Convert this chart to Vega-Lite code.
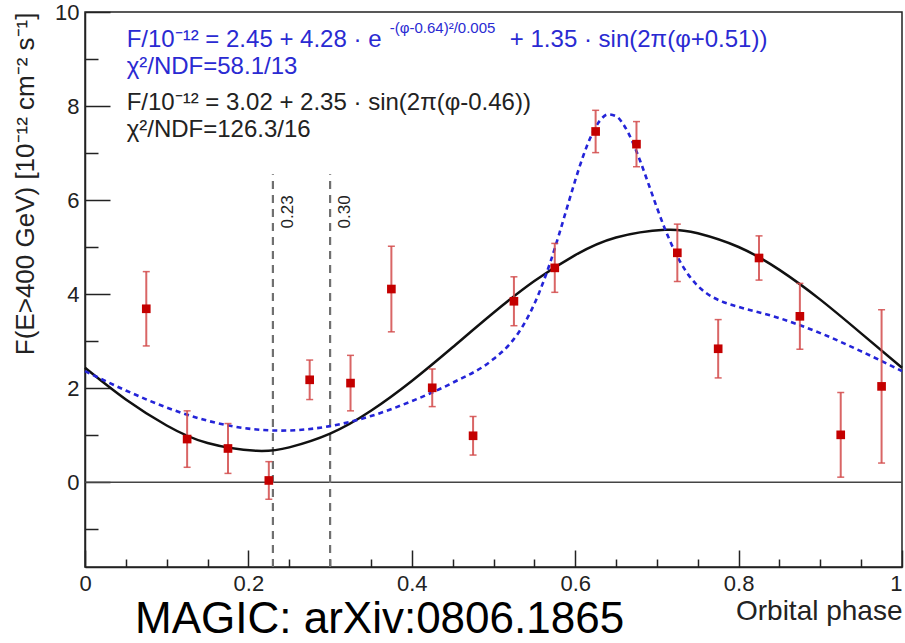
{
  "$schema": "https://vega.github.io/schema/vega-lite/v6.json",
  "width": 817,
  "height": 555,
  "autosize": "none",
  "padding": {"left": 85, "top": 12, "right": 3, "bottom": 76},
  "background": "white",
  "config": {
    "view": {"stroke": "#222", "strokeWidth": 1.5},
    "font": "Liberation Sans",
    "axis": {
      "grid": false,
      "domainColor": "#222",
      "domainWidth": 1.5,
      "tickColor": "#222",
      "tickWidth": 1.5,
      "labelColor": "#222",
      "titleColor": "#222",
      "labelFont": "Liberation Sans",
      "titleFont": "Liberation Sans",
      "titleFontWeight": "normal",
      "labelFontSize": 22,
      "titleFontSize": 26
    }
  },
  "datasets": {
    "points": [
      {"phase": 0.075, "flux": 3.69, "lo": 2.90, "hi": 4.48},
      {"phase": 0.125, "flux": 0.92, "lo": 0.32, "hi": 1.52},
      {"phase": 0.175, "flux": 0.72, "lo": 0.19, "hi": 1.25},
      {"phase": 0.225, "flux": 0.04, "lo": -0.36, "hi": 0.44},
      {"phase": 0.275, "flux": 2.18, "lo": 1.76, "hi": 2.60},
      {"phase": 0.325, "flux": 2.11, "lo": 1.52, "hi": 2.70},
      {"phase": 0.375, "flux": 4.11, "lo": 3.20, "hi": 5.02},
      {"phase": 0.425, "flux": 2.01, "lo": 1.61, "hi": 2.41},
      {"phase": 0.475, "flux": 0.99, "lo": 0.58, "hi": 1.40},
      {"phase": 0.525, "flux": 3.85, "lo": 3.33, "hi": 4.37},
      {"phase": 0.575, "flux": 4.56, "lo": 4.04, "hi": 5.08},
      {"phase": 0.625, "flux": 7.46, "lo": 7.01, "hi": 7.91},
      {"phase": 0.675, "flux": 7.19, "lo": 6.71, "hi": 7.67},
      {"phase": 0.725, "flux": 4.88, "lo": 4.27, "hi": 5.49},
      {"phase": 0.775, "flux": 2.84, "lo": 2.22, "hi": 3.46},
      {"phase": 0.825, "flux": 4.77, "lo": 4.30, "hi": 5.24},
      {"phase": 0.875, "flux": 3.53, "lo": 2.83, "hi": 4.23},
      {"phase": 0.925, "flux": 1.01, "lo": 0.11, "hi": 1.91},
      {"phase": 0.975, "flux": 2.04, "lo": 0.41, "hi": 3.67}
    ],
    "sineFit": [
      {"phase": 0.0, "flux": 2.435}, {"phase": 0.05, "flux": 1.761}, {"phase": 0.1, "flux": 1.209},
      {"phase": 0.15, "flux": 0.835}, {"phase": 0.21, "flux": 0.67}, {"phase": 0.25, "flux": 0.744},
      {"phase": 0.3, "flux": 1.036}, {"phase": 0.35, "flux": 1.522}, {"phase": 0.4, "flux": 2.155},
      {"phase": 0.45, "flux": 2.872}, {"phase": 0.5, "flux": 3.605}, {"phase": 0.55, "flux": 4.279},
      {"phase": 0.6, "flux": 4.831}, {"phase": 0.65, "flux": 5.205}, {"phase": 0.71, "flux": 5.37},
      {"phase": 0.75, "flux": 5.296}, {"phase": 0.8, "flux": 5.004}, {"phase": 0.85, "flux": 4.518},
      {"phase": 0.9, "flux": 3.885}, {"phase": 0.95, "flux": 3.168}, {"phase": 1.0, "flux": 2.435}
    ],
    "gaussFit": [
      {"phase": 0.0, "flux": 2.365}, {"phase": 0.05, "flux": 1.953}, {"phase": 0.1, "flux": 1.590},
      {"phase": 0.15, "flux": 1.310}, {"phase": 0.2, "flux": 1.142}, {"phase": 0.24, "flux": 1.100},
      {"phase": 0.3, "flux": 1.195}, {"phase": 0.35, "flux": 1.410}, {"phase": 0.4, "flux": 1.727},
      {"phase": 0.45, "flux": 2.117}, {"phase": 0.5, "flux": 2.620}, {"phase": 0.52, "flux": 2.943},
      {"phase": 0.53, "flux": 3.166}, {"phase": 0.54, "flux": 3.446}, {"phase": 0.55, "flux": 3.794},
      {"phase": 0.56, "flux": 4.215}, {"phase": 0.57, "flux": 4.705}, {"phase": 0.58, "flux": 5.258},
      {"phase": 0.59, "flux": 5.839}, {"phase": 0.6, "flux": 6.418}, {"phase": 0.61, "flux": 6.948},
      {"phase": 0.62, "flux": 7.384}, {"phase": 0.63, "flux": 7.684}, {"phase": 0.64, "flux": 7.822},
      {"phase": 0.65, "flux": 7.784}, {"phase": 0.66, "flux": 7.583}, {"phase": 0.67, "flux": 7.245},
      {"phase": 0.68, "flux": 6.812}, {"phase": 0.69, "flux": 6.330}, {"phase": 0.7, "flux": 5.842},
      {"phase": 0.71, "flux": 5.381}, {"phase": 0.72, "flux": 4.979}, {"phase": 0.73, "flux": 4.644},
      {"phase": 0.74, "flux": 4.379}, {"phase": 0.75, "flux": 4.177}, {"phase": 0.76, "flux": 4.029},
      {"phase": 0.78, "flux": 3.842}, {"phase": 0.8, "flux": 3.731}, {"phase": 0.85, "flux": 3.491},
      {"phase": 0.9, "flux": 3.173}, {"phase": 0.95, "flux": 2.786}, {"phase": 1.0, "flux": 2.365}
    ],
    "marks": [
      {"phase": 0.23, "bottom": -1.8, "top": 6.55, "label": "0.23", "ly": 5.75, "lx": 0.2485},
      {"phase": 0.30, "bottom": -1.8, "top": 6.55, "label": "0.30", "ly": 5.75, "lx": 0.318}
    ],
    "notes": [
      {"x": 0.051, "y": 9.26, "text": "F/10⁻¹² = 2.45 + 4.28 · e", "kind": "blue"},
      {"x": 0.373, "y": 9.56, "text": "-(φ-0.64)²/0.005", "kind": "blueSup"},
      {"x": 0.52, "y": 9.26, "text": "+ 1.35 · sin(2π(φ+0.51))", "kind": "blue"},
      {"x": 0.051, "y": 8.69, "text": "χ²/NDF=58.1/13", "kind": "blue"},
      {"x": 0.051, "y": 7.92, "text": "F/10⁻¹² = 3.02 + 2.35 · sin(2π(φ-0.46))", "kind": "black"},
      {"x": 0.051, "y": 7.34, "text": "χ²/NDF=126.3/16", "kind": "black"},
      {"x": 0.0612, "y": -3.21, "text": "MAGIC: arXiv:0806.1865", "kind": "credit"}
    ]
  },
  "layer": [
    {
      "data": {"values": [{"level": 0}]},
      "mark": {"type": "rule", "color": "#444", "strokeWidth": 1.5},
      "encoding": {
        "y": {"field": "level", "type": "quantitative", "scale": {"domain": [-1.8, 10], "nice": false, "zero": false}}
      }
    },
    {
      "data": {"name": "marks"},
      "mark": {"type": "rule", "color": "#707070", "strokeWidth": 2.2, "strokeDash": [8, 6]},
      "encoding": {
        "x": {"field": "phase", "type": "quantitative", "scale": {"domain": [0, 1], "nice": false, "zero": false}},
        "y": {"field": "bottom", "type": "quantitative", "scale": {"domain": [-1.8, 10], "nice": false, "zero": false}},
        "y2": {"field": "top"}
      }
    },
    {
      "data": {"name": "marks"},
      "mark": {"type": "text", "angle": 270, "fontSize": 17, "color": "#222", "align": "center", "baseline": "middle"},
      "encoding": {
        "x": {"field": "lx", "type": "quantitative", "scale": {"domain": [0, 1], "nice": false, "zero": false}},
        "y": {"field": "ly", "type": "quantitative", "scale": {"domain": [-1.8, 10], "nice": false, "zero": false}},
        "text": {"field": "label"}
      }
    },
    {
      "data": {"name": "sineFit"},
      "mark": {"type": "line", "color": "#111", "strokeWidth": 2.5, "interpolate": "natural"},
      "encoding": {
        "x": {"field": "phase", "type": "quantitative", "scale": {"domain": [0, 1], "nice": false, "zero": false}},
        "y": {"field": "flux", "type": "quantitative", "scale": {"domain": [-1.8, 10], "nice": false, "zero": false}}
      }
    },
    {
      "data": {"name": "gaussFit"},
      "mark": {"type": "line", "color": "#2424d8", "strokeWidth": 2.6, "strokeDash": [5, 4], "interpolate": "monotone"},
      "encoding": {
        "x": {"field": "phase", "type": "quantitative", "scale": {"domain": [0, 1], "nice": false, "zero": false}},
        "y": {"field": "flux", "type": "quantitative", "scale": {"domain": [-1.8, 10], "nice": false, "zero": false}}
      }
    },
    {
      "data": {"name": "points"},
      "mark": {"type": "rule", "color": "#d24a4a", "strokeWidth": 2, "opacity": 0.85},
      "encoding": {
        "x": {"field": "phase", "type": "quantitative", "scale": {"domain": [0, 1], "nice": false, "zero": false}},
        "y": {"field": "lo", "type": "quantitative", "scale": {"domain": [-1.8, 10], "nice": false, "zero": false}},
        "y2": {"field": "hi"}
      }
    },
    {
      "data": {"name": "points"},
      "mark": {"type": "tick", "orient": "horizontal", "color": "#d24a4a", "size": 7, "thickness": 1.5, "opacity": 0.85},
      "encoding": {
        "x": {"field": "phase", "type": "quantitative", "scale": {"domain": [0, 1], "nice": false, "zero": false}},
        "y": {"field": "lo", "type": "quantitative", "scale": {"domain": [-1.8, 10], "nice": false, "zero": false}}
      }
    },
    {
      "data": {"name": "points"},
      "mark": {"type": "tick", "orient": "horizontal", "color": "#d24a4a", "size": 7, "thickness": 1.5, "opacity": 0.85},
      "encoding": {
        "x": {"field": "phase", "type": "quantitative", "scale": {"domain": [0, 1], "nice": false, "zero": false}},
        "y": {"field": "hi", "type": "quantitative", "scale": {"domain": [-1.8, 10], "nice": false, "zero": false}}
      }
    },
    {
      "data": {"name": "points"},
      "mark": {"type": "point", "shape": "square", "filled": true, "color": "#c40000", "size": 75, "opacity": 1},
      "encoding": {
        "x": {
          "field": "phase", "type": "quantitative",
          "scale": {"domain": [0, 1], "nice": false, "zero": false},
          "axis": {
            "title": "Orbital phase",
            "titleAnchor": "end",
            "titleFontSize": 28,
            "titlePadding": -6,
            "values": [0, 0.05, 0.1, 0.15, 0.2, 0.25, 0.3, 0.35, 0.4, 0.45, 0.5, 0.55, 0.6, 0.65, 0.7, 0.75, 0.8, 0.85, 0.9, 0.95, 1],
            "labelExpr": "abs(datum.value * 5 - round(datum.value * 5)) < 0.001 ? format(datum.value, '~g') : ''",
            "labelPadding": 23,
            "labelFlush": false,
            "labelOverlap": false,
            "labelAlign": {"condition": {"test": "datum.value == 1", "value": "right"}, "value": "center"},
            "tickSize": {"condition": {"test": "abs(datum.value * 5 - round(datum.value * 5)) < 0.001", "value": -17}, "value": -8}
          }
        },
        "y": {
          "field": "flux", "type": "quantitative",
          "scale": {"domain": [-1.8, 10], "nice": false, "zero": false},
          "axis": {
            "title": "F(E>400 GeV) [10⁻¹² cm⁻² s⁻¹]",
            "titleAnchor": "end",
            "titlePadding": 16,
            "values": [-1, 0, 1, 2, 3, 4, 5, 6, 7, 8, 9, 10],
            "labelExpr": "datum.value % 2 == 0 ? datum.label : ''",
            "labelPadding": 31,
            "labelFlush": false,
            "labelOverlap": false,
            "tickSize": {"condition": {"test": "datum.value % 2 == 0", "value": -25}, "value": -13}
          }
        }
      }
    },
    {
      "data": {"name": "notes"},
      "transform": [{"filter": "datum.kind == 'blue'"}],
      "mark": {"type": "text", "fontSize": 24, "color": "#2a2ad2", "align": "left", "baseline": "alphabetic"},
      "encoding": {
        "x": {"field": "x", "type": "quantitative", "scale": {"domain": [0, 1], "nice": false, "zero": false}},
        "y": {"field": "y", "type": "quantitative", "scale": {"domain": [-1.8, 10], "nice": false, "zero": false}},
        "text": {"field": "text"}
      }
    },
    {
      "data": {"name": "notes"},
      "transform": [{"filter": "datum.kind == 'blueSup'"}],
      "mark": {"type": "text", "fontSize": 15, "color": "#2a2ad2", "align": "left", "baseline": "alphabetic"},
      "encoding": {
        "x": {"field": "x", "type": "quantitative", "scale": {"domain": [0, 1], "nice": false, "zero": false}},
        "y": {"field": "y", "type": "quantitative", "scale": {"domain": [-1.8, 10], "nice": false, "zero": false}},
        "text": {"field": "text"}
      }
    },
    {
      "data": {"name": "notes"},
      "transform": [{"filter": "datum.kind == 'black'"}],
      "mark": {"type": "text", "fontSize": 24, "color": "#222", "align": "left", "baseline": "alphabetic"},
      "encoding": {
        "x": {"field": "x", "type": "quantitative", "scale": {"domain": [0, 1], "nice": false, "zero": false}},
        "y": {"field": "y", "type": "quantitative", "scale": {"domain": [-1.8, 10], "nice": false, "zero": false}},
        "text": {"field": "text"}
      }
    },
    {
      "data": {"name": "notes"},
      "transform": [{"filter": "datum.kind == 'credit'"}],
      "mark": {"type": "text", "fontSize": 44, "color": "#000", "align": "left", "baseline": "alphabetic"},
      "encoding": {
        "x": {"field": "x", "type": "quantitative", "scale": {"domain": [0, 1], "nice": false, "zero": false}},
        "y": {"field": "y", "type": "quantitative", "scale": {"domain": [-1.8, 10], "nice": false, "zero": false}},
        "text": {"field": "text"}
      }
    }
  ]
}
